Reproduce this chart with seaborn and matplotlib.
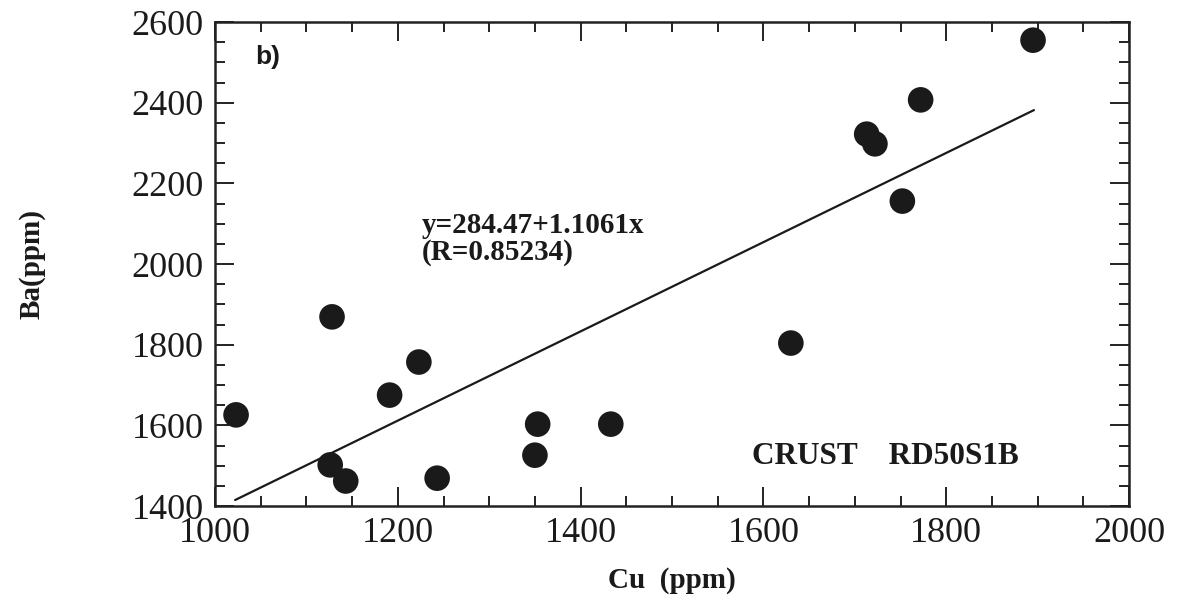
import numpy as np
import pandas as pd
import matplotlib
matplotlib.use("Agg")
import matplotlib.pyplot as plt
import seaborn as sns
from matplotlib.ticker import MultipleLocator

# ---- data ----
cu_ppm = [1023, 1128, 1126, 1143, 1191, 1223, 1243, 1350, 1353, 1433,
          1630, 1713, 1722, 1752, 1772, 1895]
ba_ppm = [1626, 1869, 1502, 1462, 1675, 1757, 1469, 1526, 1603, 1603,
          1804, 2322, 2298, 2156, 2407, 2555]
fit_intercept = 284.47
fit_slope = 1.1061
fit_x_range = [1022, 1896]
x_ticks = [1000, 1200, 1400, 1600, 1800, 2000]
y_ticks = [1400, 1600, 1800, 2000, 2200, 2400, 2600]
equation_text = "y=284.47+1.1061x\n(R=0.85234)"
sample_text = "CRUST    RD50S1B"
panel_text = "b)"

sns.set_theme(style="ticks")
plt.rcParams['font.family'] = ['Liberation Serif', 'DejaVu Serif']

df = pd.DataFrame({"Cu": cu_ppm, "Ba": ba_ppm})
fit_x = np.array(fit_x_range, dtype=float)
line_df = pd.DataFrame({"x": fit_x, "y": fit_intercept + fit_slope * fit_x})

fig = plt.figure(figsize=(11.79, 6.05), dpi=100)
ax = fig.add_axes([0.1824, 0.1636, 0.9576 - 0.1824, 0.9636 - 0.1636])

sns.lineplot(data=line_df, x="x", y="y", ax=ax, color="#1a1a1a", linewidth=1.6)
sns.scatterplot(data=df, x="Cu", y="Ba", ax=ax, s=340, color="#1a1a1a",
                edgecolor="none", zorder=3)

ax.set_xlim(1000, 2000)
ax.set_ylim(1400, 2600)
ax.set_xticks(x_ticks)
ax.set_yticks(y_ticks)
ax.xaxis.set_minor_locator(MultipleLocator(50))
ax.yaxis.set_minor_locator(MultipleLocator(50))
ax.tick_params(which="both", direction="in", top=True, right=True,
               color="#222222", width=1.4)
ax.tick_params(which="major", length=14, labelsize=26, pad=8,
               labelcolor="#1a1a1a")
ax.tick_params(which="minor", length=7)
for s in ax.spines.values():
    s.set_linewidth(1.8)
    s.set_color("#222222")

ax.set_xlabel("Cu  (ppm)", fontsize=21, fontweight="bold", labelpad=12,
              color="#1a1a1a")
ax.set_ylabel("Ba(ppm)", fontsize=21, fontweight="bold", labelpad=62,
              color="#1a1a1a")

ax.text(0.044, 0.928, panel_text, transform=ax.transAxes, fontsize=19,
        fontweight="bold", family=["Liberation Sans", "DejaVu Sans"],
        va="center", ha="left", color="#1a1a1a")
ax.text(1226, 2062, equation_text, fontsize=21, fontweight="bold",
        va="center", ha="left", linespacing=1.0, color="#1a1a1a")
ax.text(1588, 1524, sample_text, fontsize=22.5, fontweight="bold",
        va="center", ha="left", color="#1a1a1a")

fig.savefig("out.png", dpi=100, facecolor="white")
